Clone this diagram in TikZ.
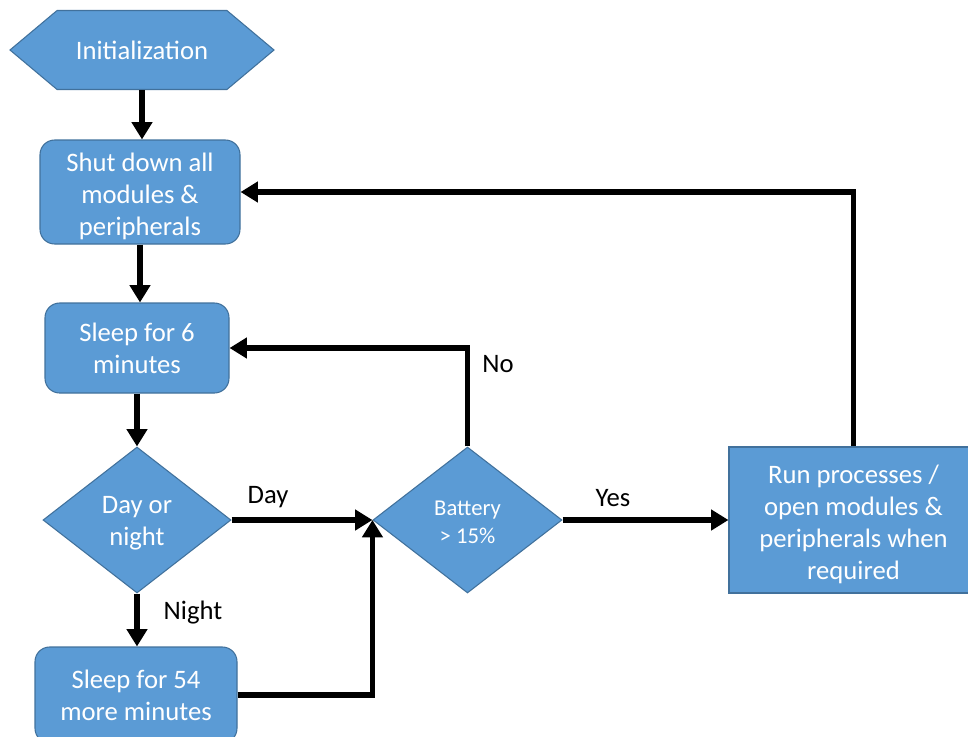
\documentclass[tikz,border=0pt]{standalone}
\usepackage{fontspec}
\setmainfont{Carlito}
\usetikzlibrary{shapes.geometric,shapes.symbols,arrows.meta,calc}
\definecolor{boxfill}{HTML}{5B9BD5}
\definecolor{boxline}{HTML}{41719C}
% invisible strut that lowers a block's text a little inside its shape
\newcommand{\toppad}[1]{\rule{0pt}{#1}}
\begin{document}
\begin{tikzpicture}[x=0.75pt,y=-0.75pt,
  blockbase/.style={fill=boxfill,draw=boxline,line width=0.8pt,text=white,
    align=center,inner sep=0pt,font=\fontsize{20}{24}\selectfont},
  roundbox/.style={blockbase,rectangle,rounded corners=11pt},
  plainbox/.style={blockbase,rectangle},
  decision/.style={blockbase,diamond,aspect=1.3},
  startshape/.style={blockbase,signal,signal to=west and east,signal pointer angle=80},
  flow/.style={line width=4.2pt,-{Triangle[length=13pt,width=15pt]}},
  lbl/.style={font=\fontsize{20}{24}\selectfont,inner sep=0pt}]
\useasboundingbox (0,0) rectangle (968,736);

% blocks
\node[startshape,minimum width=264*0.75pt,minimum height=79*0.75pt] (init) at (142,50) {Initialization};
\node[roundbox,minimum width=200*0.75pt,minimum height=104*0.75pt] (shut) at (140,192) {\toppad{20pt}Shut down all\\modules \&\\peripherals};
\node[roundbox,minimum width=184*0.75pt,minimum height=90*0.75pt] (six) at (137,348) {Sleep for 6\\minutes};
\node[decision,minimum width=188*0.75pt,minimum height=146*0.75pt] (day) at (137,520) {\toppad{17pt}Day or\\night};
\node[roundbox,minimum width=202*0.75pt,minimum height=96*0.75pt] (more) at (136,695) {Sleep for 54\\more minutes};
\node[decision,minimum width=189*0.75pt,minimum height=146*0.75pt,font=\fontsize{17}{21}\selectfont] (bat) at (467.5,520) {\toppad{15pt}Battery\\> 15\%};
\node[plainbox,minimum width=249*0.75pt,minimum height=146*0.75pt] (run) at (853.5,520) {\toppad{20pt}Run processes /\\open modules \&\\peripherals when\\required};

% connectors
\draw[flow] (init.south) -- (init.south |- shut.north);
\draw[flow] (shut.south) -- (shut.south |- six.north);
\draw[flow] (six.south) -- (six.south |- day.north);
\draw[flow] (day.south) -- (day.south |- more.north);
\draw[flow] (day.east) -- (bat.west);
\draw[flow] (more.east) -| (bat.west);
\draw[flow] (bat.north) |- (six.east);
\draw[flow] (bat.east) -- (run.west);
\draw[flow] (run.north) |- (shut.east);

% branch labels
\node[lbl] (lday) at (268,497) {Day};
\node[lbl] (lnight) at (193,613) {Night};
\node[lbl] (lno) at (498,364) {No};
\node[lbl] (lyes) at (613,498) {Yes};
\end{tikzpicture}
\end{document}
